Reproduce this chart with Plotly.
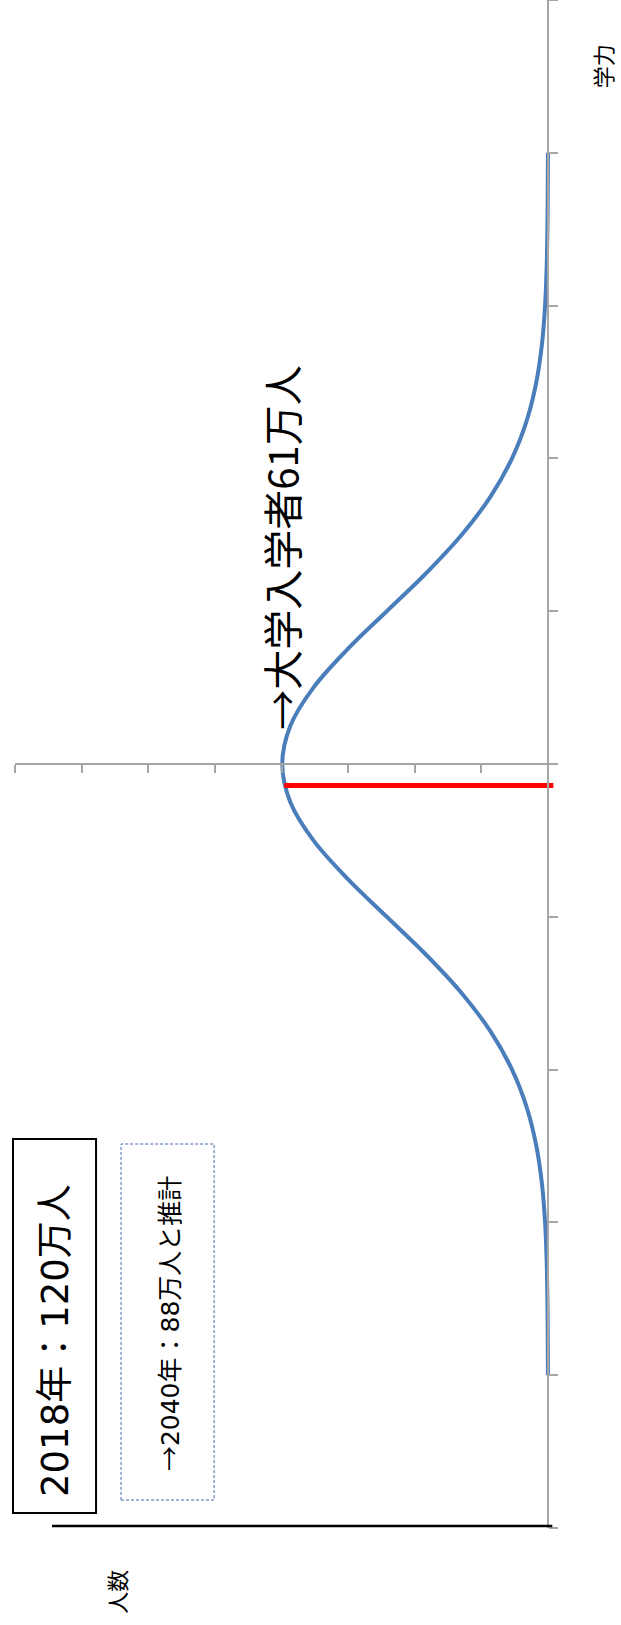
import plotly.graph_objects as go

# 学力 (in steps of one tick) and 人数
ability = [-4, -3.75, -3.5, -3.25, -3, -2.75, -2.5, -2.25, -2, -1.75, -1.5, -1.25, -1,
           -0.75, -0.5, -0.25, 0, 0.25, 0.5, 0.75, 1, 1.25, 1.5, 1.75, 2, 2.25, 2.5,
           2.75, 3, 3.25, 3.5, 3.75, 4]
people = [0.0001, 0.0004, 0.0009, 0.002, 0.0044, 0.009, 0.0175, 0.0317, 0.054, 0.0863,
          0.1295, 0.1826, 0.242, 0.3011, 0.3521, 0.3867, 0.3989, 0.3867, 0.3521, 0.3011,
          0.242, 0.1826, 0.1295, 0.0863, 0.054, 0.0317, 0.0175, 0.009, 0.0044, 0.002,
          0.0009, 0.0004, 0.0001]

# red cut-off line (大学入学者)
cut_ability = [-0.14, -0.14]
cut_people = [0.396, -0.008]

x_range = [0.8, -0.012]
y_range = [-5, 5]

font = "Noto Sans CJK JP"
gray = "#a6a6a6"


def wide(s):
    # digits a bit wider, like the original font
    return '<span style="font-family:DejaVu Sans">' + s + '</span>'


fig = go.Figure()
fig.add_trace(go.Scatter(x=people, y=ability, mode="lines",
                         line=dict(color="#4a7ebb", width=4, shape="spline"),
                         hoverinfo="skip"))
fig.add_trace(go.Scatter(x=cut_people, y=cut_ability, mode="lines",
                         line=dict(color="#ff0000", width=5),
                         hoverinfo="skip"))

fig.update_layout(
    width=621, height=1625,
    margin=dict(l=15, r=65, t=0, b=97),
    paper_bgcolor="white", plot_bgcolor="white",
    showlegend=False,
    xaxis=dict(range=x_range, showgrid=False, zeroline=False, showline=True,
               linecolor=gray, linewidth=1.5, ticks="outside", ticklen=8,
               tickcolor=gray, tickwidth=1.5, tick0=0, dtick=0.1,
               showticklabels=False, anchor="free", position=0.5),
    yaxis=dict(range=y_range, showgrid=False, zeroline=False, showline=True,
               linecolor=gray, linewidth=1.5, ticks="outside", ticklen=9,
               tickcolor=gray, tickwidth=1.5, dtick=1, side="right",
               showticklabels=False, anchor="free",
               position=x_range[0] / (x_range[0] - x_range[1])),
)

# 人数 axis line at the bottom, and the two text boxes
fig.add_shape(type="line", xref="paper", yref="paper", x0=0.0684, x1=0.9932,
              y0=0.0013, y1=0.0013, line=dict(color="black", width=2.5))
fig.add_shape(type="rect", xref="paper", yref="paper", x0=-0.0037, x1=0.1498,
              y0=0.0098, y1=0.2546, line=dict(color="black", width=2))
fig.add_shape(type="rect", xref="paper", yref="paper", x0=0.196, x1=0.368,
              y0=0.0183, y1=0.2513, line=dict(color="#3f67a8", width=1, dash="3px,2px"))

notes = [
    (wide("2018") + "年：" + wide("120") + "万人", 0.0684, 0.1224, 37),
    ("→" + wide("2040") + "年：" + wide("88") + "万人と推計", 0.283, 0.1335, 25),
    ("→大学入学者61万人", 0.492, 0.6417, 40),
    ("学力", 1.0856, 0.9568, 22),
    ("人数", 0.186, -0.0419, 22),
]
for text, x, y, size in notes:
    fig.add_annotation(text=text, xref="paper", yref="paper", x=x, y=y,
                       xanchor="center", yanchor="middle", textangle=-90,
                       showarrow=False, font=dict(family=font, size=size, color="black"))

fig.write_html("out.html", config={"displayModeBar": False},
               post_script="document.body.style.margin='0';")
